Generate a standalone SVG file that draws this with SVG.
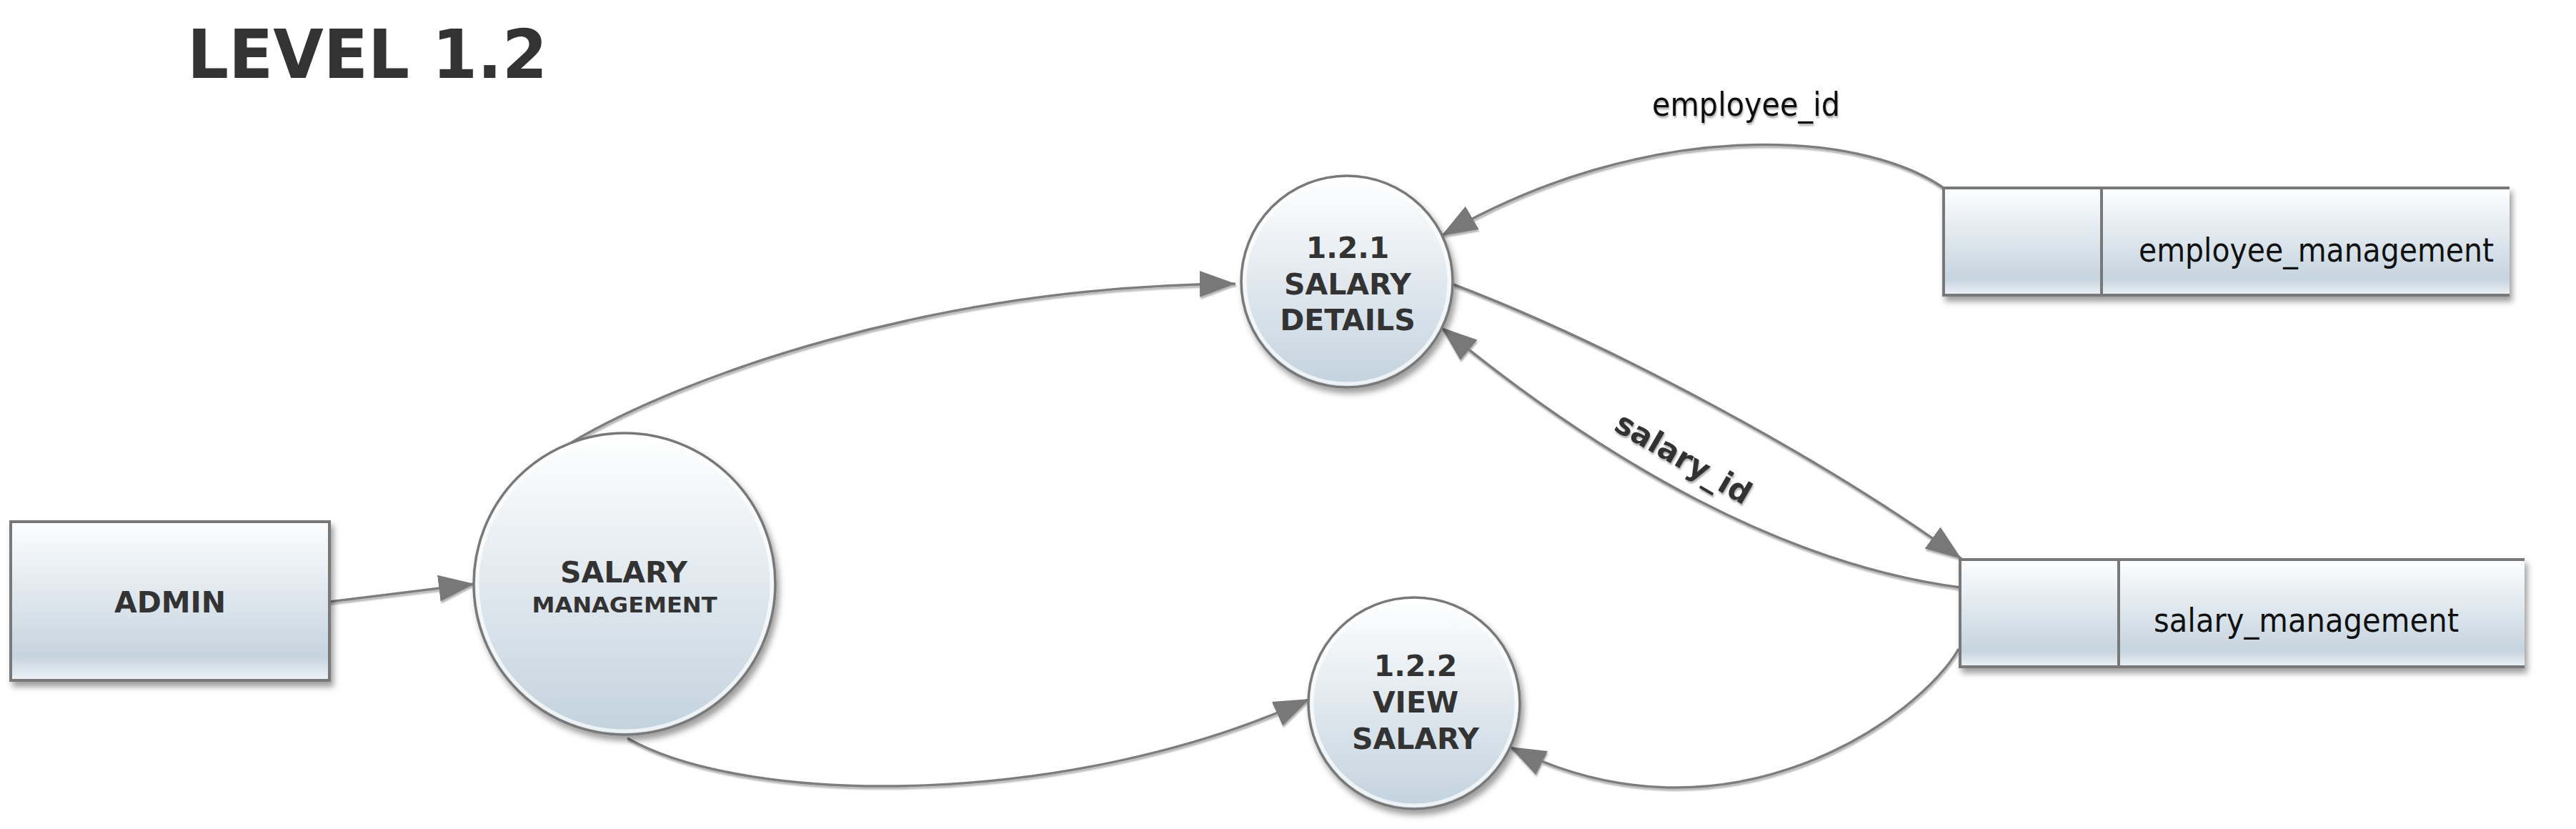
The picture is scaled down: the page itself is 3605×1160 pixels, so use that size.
<svg xmlns="http://www.w3.org/2000/svg" width="3605" height="1160" viewBox="0 0 3605 1160">
<style>
.node{font-family:"DejaVu Sans",Verdana,sans-serif;font-weight:bold;fill:#333333;text-anchor:middle}
.lbl{font-family:"DejaVu Sans Condensed","DejaVu Sans",sans-serif;fill:#111111;font-size:47px}
.edge{fill:none;stroke:#7d7d7d;stroke-width:3.5}
.bord{fill:none;stroke:#787878;stroke-width:4}
.rim{fill:none;stroke:#ffffff;stroke-opacity:0.7;stroke-width:5}
</style>
<defs>
<linearGradient id="g" x1="0" y1="0" x2="0" y2="1">
<stop offset="0" stop-color="#fdfeff"/>
<stop offset="0.85" stop-color="#c6d4df"/>
<stop offset="0.93" stop-color="#dbe4eb"/>
<stop offset="1" stop-color="#eef2f5"/>
</linearGradient>
<linearGradient id="gc" x1="0" y1="0" x2="0" y2="1">
<stop offset="0" stop-color="#ffffff"/>
<stop offset="1" stop-color="#c3d2de"/>
</linearGradient>
<filter id="sh" x="-10%" y="-10%" width="125%" height="130%">
<feDropShadow dx="4" dy="7" stdDeviation="4" flood-color="#000" flood-opacity="0.38"/>
</filter>
<filter id="esh" x="-5%" y="-5%" width="110%" height="115%">
<feDropShadow dx="1" dy="3" stdDeviation="1.2" flood-color="#000" flood-opacity="0.3"/>
</filter>
<marker id="ah" markerUnits="userSpaceOnUse" markerWidth="52" markerHeight="40" viewBox="0 0 52 40" refX="50" refY="20" orient="auto">
<path d="M0,1.5 L50,20 L0,38.5 z" fill="#787878"/>
</marker>
</defs>
<rect width="3605" height="1160" fill="#ffffff"/>
<text id="title" x="262" y="109" font-family="DejaVu Sans,Verdana,sans-serif" font-weight="bold" font-size="94" fill="#333333" textLength="504" lengthAdjust="spacingAndGlyphs">LEVEL 1.2</text>

<g id="connectors" filter="url(#esh)">
<path class="edge" marker-end="url(#ah)" d="M461 842 L664 817"/>
<path class="edge" marker-end="url(#ah)" d="M800 619 C950 530 1300 400 1729 397"/>
<path class="edge" marker-end="url(#ah)" d="M878 1033 C1050 1130 1500 1130 1833 978"/>
<path class="edge" marker-end="url(#ah)" d="M2720 263 C2600 180 2300 165 2017 330"/>
<path class="edge" marker-end="url(#ah)" d="M2034 398 C2250 480 2550 640 2745 782"/>
<path class="edge" marker-end="url(#ah)" d="M2743 822 C2500 790 2250 650 2017 458"/>
<path class="edge" marker-end="url(#ah)" d="M2741 908 C2690 1000 2420 1200 2113 1045"/>
<text class="lbl" x="2312" y="162" textLength="263" lengthAdjust="spacingAndGlyphs">employee_id</text>
<text transform="translate(2356 641) rotate(30)" y="15" text-anchor="middle" font-family="DejaVu Sans,Verdana,sans-serif" font-weight="bold" font-size="43" fill="#333333" textLength="212" lengthAdjust="spacingAndGlyphs">salary_id</text>
</g>

<g id="admin">
<rect x="15" y="730" width="446" height="222" fill="url(#g)" stroke="#787878" stroke-width="4" filter="url(#sh)"/>
<text class="node" x="238" y="857" font-size="41">ADMIN</text>
</g>

<g id="salary-management">
<circle cx="874" cy="817" r="211" fill="url(#gc)" stroke="#787878" stroke-width="3.5" filter="url(#sh)"/>
<circle class="rim" cx="874" cy="817" r="206"/>
<text class="node" x="873" y="815" font-size="41">SALARY</text>
<text class="node" x="874" y="857" font-size="31" textLength="259" lengthAdjust="spacingAndGlyphs">MANAGEMENT</text>
</g>

<g id="p121">
<circle cx="1885" cy="394" r="148" fill="url(#gc)" stroke="#787878" stroke-width="3.5" filter="url(#sh)"/>
<circle class="rim" cx="1885" cy="394" r="143"/>
<text class="node" x="1886" y="361" font-size="41">1.2.1</text>
<text class="node" x="1886" y="412" font-size="41">SALARY</text>
<text class="node" x="1886" y="462" font-size="41">DETAILS</text>
</g>

<g id="p122">
<circle cx="1979" cy="984" r="148" fill="url(#gc)" stroke="#787878" stroke-width="3.5" filter="url(#sh)"/>
<circle class="rim" cx="1979" cy="984" r="143"/>
<text class="node" x="1981" y="946" font-size="41">1.2.2</text>
<text class="node" x="1981" y="997" font-size="41">VIEW</text>
<text class="node" x="1981" y="1048" font-size="41">SALARY</text>
</g>

<g id="store-employee">
<g filter="url(#sh)">
<rect x="2720" y="263" width="792" height="150" fill="url(#g)"/>
<path class="bord" d="M3512 263 H2720 V413 H3512"/>
<line class="bord" x1="2941" y1="263" x2="2941" y2="413"/>
</g>
<text class="lbl" x="2993" y="366" textLength="497" lengthAdjust="spacingAndGlyphs">employee_management</text>
</g>

<g id="store-salary">
<g filter="url(#sh)">
<rect x="2743" y="783" width="790" height="150" fill="url(#g)"/>
<path class="bord" d="M3533 783 H2743 V933 H3533"/>
<line class="bord" x1="2965" y1="783" x2="2965" y2="933"/>
</g>
<text class="lbl" x="3014" y="884" textLength="427" lengthAdjust="spacingAndGlyphs">salary_management</text>
</g>
</svg>
